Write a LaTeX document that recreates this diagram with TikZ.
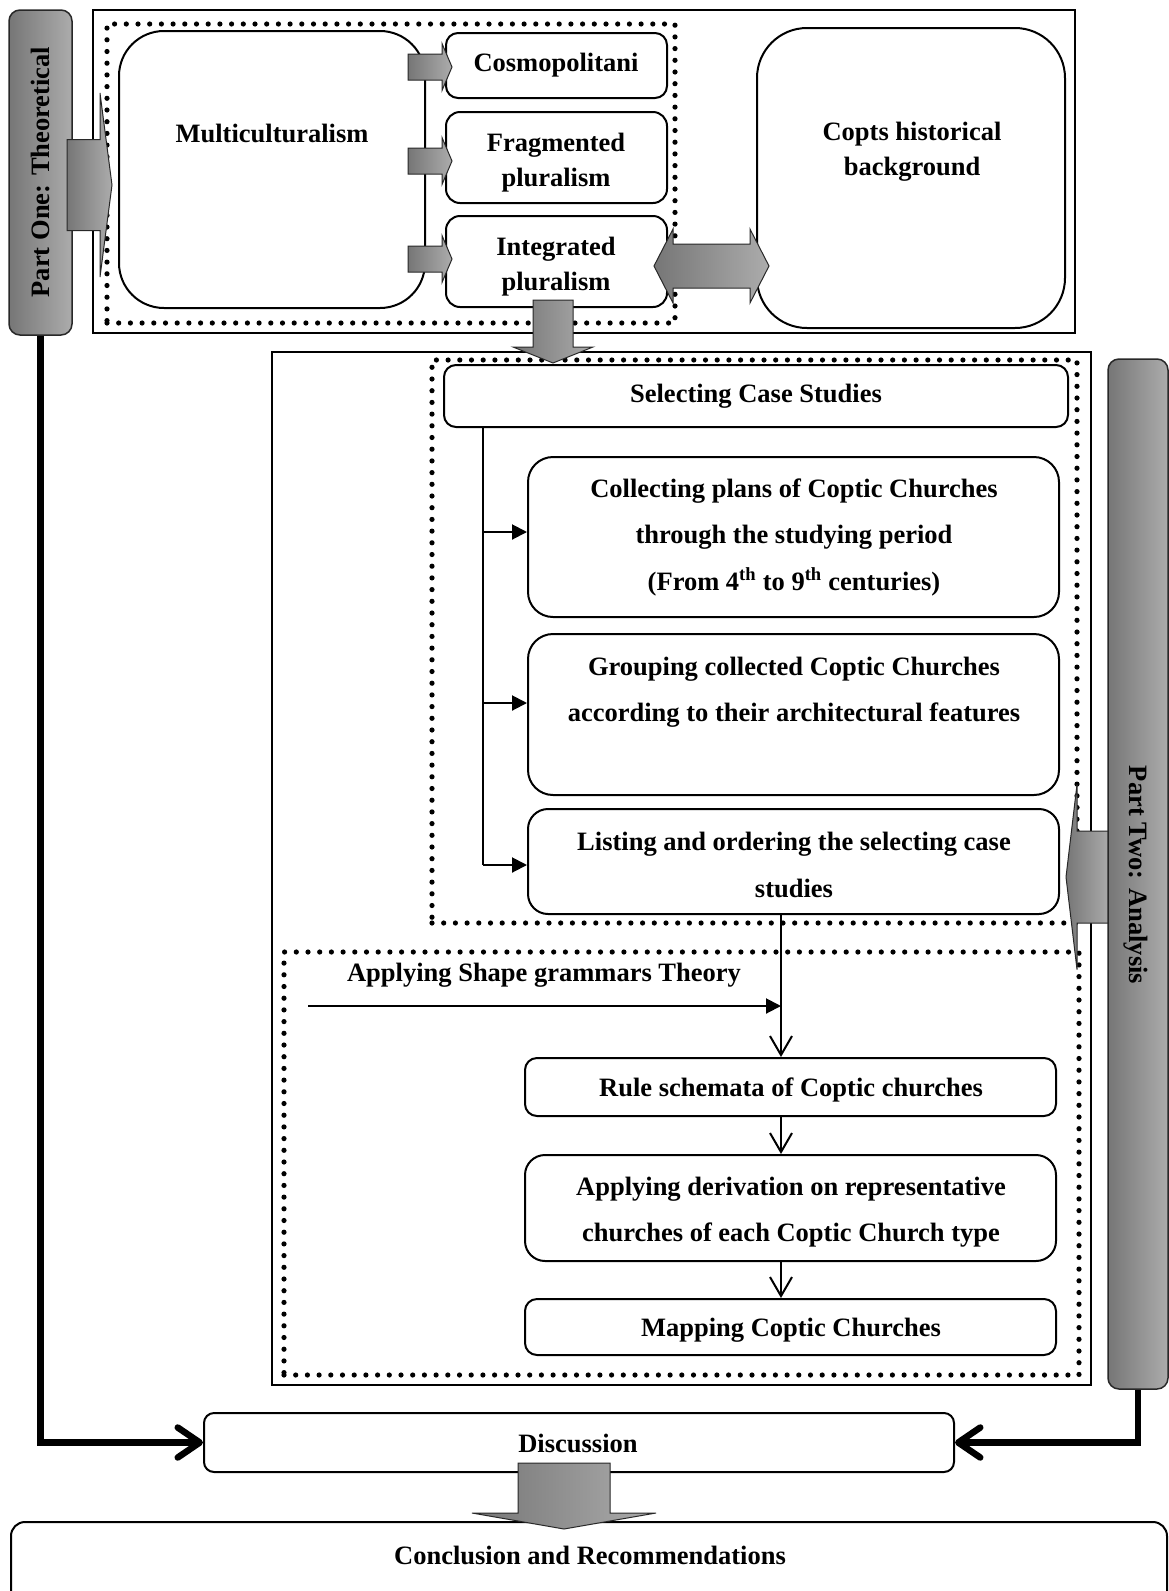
\documentclass[tikz,border=0pt]{standalone}
\usepackage{fontspec}
\setmainfont{Liberation Serif}
\usetikzlibrary{arrows.meta}

\definecolor{gdark}{RGB}{118,118,118}
\definecolor{glight}{RGB}{172,172,172}
\definecolor{edgegray}{RGB}{40,40,40}

\tikzset{
  rbox/.style={draw=black, line width=2pt, fill=white, inner sep=0pt},
  plainframe/.style={draw=black, line width=2pt, inner sep=0pt},
  dotframe/.style={draw=black, line width=5.2pt, dash pattern=on 0pt off 11.7pt, line cap=round, inner sep=0pt},
  lbl/.style={font=\fontsize{26.5}{35}\selectfont\bfseries, align=center, inner sep=0pt},
  lblwide/.style={font=\fontsize{26.5}{46.5}\selectfont\bfseries, align=center, inner sep=0pt},
  partbar/.style={draw=edgegray, line width=1.5pt, left color=gdark, right color=glight, inner sep=0pt, rounded corners=11pt},
  garrow/.style={draw=edgegray, line width=1pt, left color=gdark, right color=glight},
  flowline/.style={line width=2pt},
  branch/.style={line width=2pt, -{Triangle[length=15pt,width=15pt]}},
  stepline/.style={line width=2pt, -{Straight Barb[length=19pt,width=22pt]}},
  feedline/.style={line width=6.5pt, -{Straight Barb[length=22pt,width=30pt,round]}},
}

% horizontal block arrow: tail x, tip x, centre y, half shaft, half head, head base x
\newcommand\HArrow[6]{\path[garrow] (#1,#3-#4) -- (#6,#3-#4) -- (#6,#3-#5) -- (#2,#3) -- (#6,#3+#5) -- (#6,#3+#4) -- (#1,#3+#4) -- cycle;}
% vertical block arrow: tail y, tip y, centre x, half shaft, half head, head base y
\newcommand\VArrow[6]{\path[garrow] (#3-#4,#1) -- (#3-#4,#6) -- (#3-#5,#6) -- (#3,#2) -- (#3+#5,#6) -- (#3+#4,#6) -- (#3+#4,#1) -- cycle;}

\begin{document}
\begin{tikzpicture}[x=1pt, y=-1pt]
\useasboundingbox (0,0) rectangle (1169,1591);
\begin{scope}
\clip (0,0) rectangle (1169,1591);

% ---------- frames ----------
\node[plainframe, minimum width=982pt, minimum height=323pt] (topframe) at (584,171.5) {};
\node[plainframe, minimum width=819pt, minimum height=1033pt] (botframe) at (681.5,868.5) {};
\node[dotframe, minimum width=568pt, minimum height=299pt] (dotsA) at (391,173.5) {};
\node[dotframe, minimum width=645pt, minimum height=563pt] (dotsB) at (754.5,641.5) {};
\node[dotframe, minimum width=795pt, minimum height=423pt] (dotsC) at (681.5,1163.5) {};

% ---------- part one boxes ----------
\node[rbox, rounded corners=45pt, minimum width=306pt, minimum height=277pt] (multi) at (272,169.5) {};
\node[rbox, rounded corners=12pt, minimum width=221pt, minimum height=65pt] (cosmo) at (556.5,65.5) {};
\node[rbox, rounded corners=14pt, minimum width=221pt, minimum height=91pt] (frag) at (556.5,157.5) {};
\node[rbox, rounded corners=14pt, minimum width=221pt, minimum height=91pt] (integ) at (556.5,261.5) {};
\node[rbox, rounded corners=50pt, minimum width=308pt, minimum height=300pt] (copts) at (911,178) {};

% ---------- part two boxes ----------
\node[rbox, rounded corners=12pt, minimum width=624pt, minimum height=62pt] (select) at (756,396) {};
\node[rbox, rounded corners=25pt, minimum width=531pt, minimum height=160pt] (collect) at (793.5,537) {};
\node[rbox, rounded corners=25pt, minimum width=531pt, minimum height=161pt] (group) at (793.5,714.5) {};
\node[rbox, rounded corners=20pt, minimum width=531pt, minimum height=105pt] (listing) at (793.5,861.5) {};
\node[rbox, rounded corners=12pt, minimum width=531pt, minimum height=58pt] (rule) at (790.5,1087) {};
\node[rbox, rounded corners=20pt, minimum width=531pt, minimum height=106pt] (deriv) at (790.5,1208) {};
\node[rbox, rounded corners=12pt, minimum width=531pt, minimum height=56pt] (mapping) at (790.5,1327) {};

% ---------- closing boxes ----------
\node[rbox, rounded corners=10pt, minimum width=750pt, minimum height=59pt] (discussion) at (579,1442.5) {};
\node[rbox, rounded corners=14pt, minimum width=1156pt, minimum height=100pt] (conclusion) at (589,1572) {};

% ---------- branch from the case-study selection ----------
\coordinate (trunktop) at (483,427);
\coordinate (trunkbot) at (483,865);
\coordinate (brA) at (483,532);
\coordinate (brB) at (483,703);
\coordinate (brC) at (483,865);
\draw[flowline] (trunktop) -- (trunkbot);
\draw[branch] (brA) -- (brA -| collect.west);
\draw[branch] (brB) -- (brB -| group.west);
\draw[branch] (brC) -- (brC -| listing.west);

% ---------- shape grammar flow ----------
\coordinate (flowx) at (781,0);
\coordinate (sgstart) at (308,1006);
\draw[flowline] (listing.south -| flowx) -- (sgstart -| flowx);
\draw[branch] (sgstart) -- (sgstart -| flowx);
\draw[stepline] (sgstart -| flowx) -- (rule.north -| flowx);
\draw[stepline] (rule.south -| flowx) -- (deriv.north -| flowx);
\draw[stepline] (deriv.south -| flowx) -- (mapping.north -| flowx);

% ---------- side bars and their feeds ----------
\node[partbar, minimum width=63pt, minimum height=325pt] (partone) at (40.5,172.5) {};
\HArrow{1110}{1066}{877}{46}{92.5}{1077}
\node[partbar, minimum width=60pt, minimum height=1030pt] (parttwo) at (1138,874) {};
\draw[feedline] (partone.south) |- (discussion.west);
\draw[feedline] (parttwo.south) |- (discussion.east);

% ---------- block arrows ----------
\HArrow{67}{112}{185}{45.5}{92}{100}
\HArrow{408}{452}{67}{13}{23.5}{442}
\HArrow{408}{452}{161}{13}{23.5}{442}
\HArrow{408}{452}{259}{13}{23.5}{442}
\VArrow{300}{363}{553}{20}{40}{347}
\path[garrow] (654,266) -- (673,229) -- (673,244) -- (750,244) -- (750,229) -- (769,266)
  -- (750,303) -- (750,288) -- (673,288) -- (673,303) -- cycle;
\VArrow{1463}{1529}{564}{46}{92}{1513}

% ---------- labels ----------
\node[lbl] (t-multi) at (272,133) {Multiculturalism};
\node[lbl] (t-cosmo) at (556,65) {Cosmopolitani};
\node[lbl] (t-frag) at (556,163) {Fragmented\\pluralism};
\node[lbl] (t-integ) at (556,267) {Integrated\\pluralism};
\node[lbl] (t-copts) at (912,152) {Copts historical\\background};
\node[lbl] (t-select) at (756,396) {Selecting Case Studies};
\node[lblwide] (t-collect) at (794,537) {Collecting plans of Coptic Churches\\through the studying period\\(From 4\textsuperscript{th} to 9\textsuperscript{th} centuries)};
\node[lblwide] (t-group) at (794,692) {Grouping collected Coptic Churches\\according to their architectural features};
\node[lblwide] (t-list) at (794,865) {Listing and ordering the selecting case\\studies};
\node[lbl] (t-shape) at (544,975) {Applying Shape grammars Theory};
\node[lbl] (t-rule) at (791,1090) {Rule schemata of Coptic churches};
\node[lblwide] (t-deriv) at (791,1212) {Applying derivation on representative\\churches of each Coptic Church type};
\node[lbl] (t-map) at (791,1330) {Mapping Coptic Churches};
\node[lbl, rotate=90] (t-one) at (40,172) {Part One: Theoretical};
\node[lbl, rotate=-90] (t-two) at (1136,875) {Part Two: Analysis};
\node[lbl] (t-disc) at (578,1443) {Discussion};
\node[lbl] (t-concl) at (590,1555) {Conclusion and Recommendations};
\end{scope}
\end{tikzpicture}
\end{document}
